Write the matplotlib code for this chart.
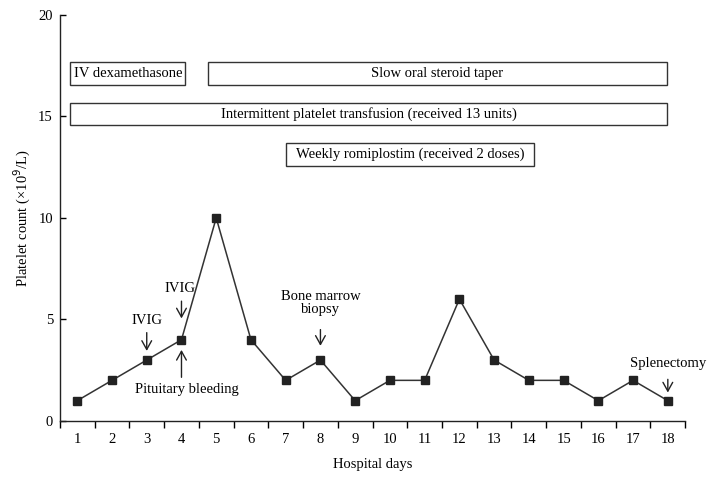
import matplotlib.pyplot as plt

# platelet counts per hospital day
days = list(range(1, 19))
platelets = [1, 2, 3, 4, 10, 4, 2, 3, 1, 2, 2, 6, 3, 2, 2, 1, 2, 1]

# treatment bars: label, start, end, bottom, top (in axis units, days as bins 0..18)
treatments = [
    ("IV dexamethasone", 0.29, 3.6, 16.55, 17.7, "left"),
    ("Slow oral steroid taper", 4.26, 17.48, 16.55, 17.7, "center"),
    ("Intermittent platelet transfusion (received 13 units)", 0.29, 17.48, 14.58, 15.67, "center"),
    ("Weekly romiplostim (received 2 doses)", 6.51, 13.65, 12.56, 13.69, "center"),
]

plt.rcParams['font.family'] = ['Liberation Serif', 'DejaVu Serif']
fs = 10.5

fig = plt.figure(figsize=(7.13, 4.8), dpi=100)
ax = fig.add_axes([0.084, 0.123, 0.877, 0.846])

x = [d - 0.5 for d in days]
ax.plot(x, platelets, color='#333333', lw=1.1, marker='s', ms=5.5,
        mfc='#222222', mec='#222222')

for label, x0, x1, y0, y1, align in treatments:
    ax.add_patch(plt.Rectangle((x0, y0), x1 - x0, y1 - y0, fill=False,
                               ec='#333333', lw=1.0))
    if align == "left":
        ax.text(x0 + 0.12, (y0 + y1) / 2, label, ha='left', va='center', fontsize=fs)
    else:
        ax.text((x0 + x1) / 2, (y0 + y1) / 2, label, ha='center', va='center', fontsize=fs)

arrow = dict(arrowstyle='->, head_length=0.45, head_width=0.25', color='#222222',
             lw=1.0, mutation_scale=14, shrinkA=0, shrinkB=0)

# IVIG day 3
ax.text(2.5, 4.95, "IVIG", ha='center', va='center', fontsize=fs)
ax.annotate("", xy=(2.5, 3.45), xytext=(2.5, 4.35), arrowprops=arrow)
# IVIG day 4
ax.text(3.45, 6.5, "IVIG", ha='center', va='center', fontsize=fs)
ax.annotate("", xy=(3.5, 5.05), xytext=(3.5, 5.9), arrowprops=arrow)
# pituitary bleeding
ax.annotate("", xy=(3.5, 3.5), xytext=(3.5, 2.15), arrowprops=arrow)
ax.text(3.65, 1.55, "Pituitary bleeding", ha='center', va='center', fontsize=fs)
# bone marrow biopsy
ax.text(7.5, 5.8, "Bone marrow\nbiopsy", ha='center', va='center', fontsize=fs,
        linespacing=1.05)
ax.annotate("", xy=(7.5, 3.7), xytext=(7.5, 4.5), arrowprops=arrow)
# splenectomy
ax.text(17.5, 2.85, "Splenectomy", ha='center', va='center', fontsize=fs)
ax.annotate("", xy=(17.5, 1.4), xytext=(17.5, 2.05), arrowprops=arrow)

ax.set_xlim(0, 18)
ax.set_ylim(0, 20)
ax.set_xticks(range(0, 19))
ax.set_xticklabels([])
ax.set_xticks(x, minor=True)
ax.set_xticklabels([str(d) for d in days], minor=True, fontsize=fs)
ax.tick_params(axis='x', which='minor', length=0, pad=9)
ax.tick_params(axis='x', which='major', length=5, width=1, direction='out')
ax.set_yticks([0, 5, 10, 15, 20])
ax.tick_params(axis='y', length=4, width=1, direction='in', labelsize=fs, pad=5)

for s in ['top', 'right']:
    ax.spines[s].set_visible(False)
for s in ['left', 'bottom']:
    ax.spines[s].set_linewidth(1.0)
    ax.spines[s].set_color('#222222')

ax.set_xlabel("Hospital days", fontsize=fs, labelpad=8)
ax.set_ylabel("Platelet count (×10$^{9}$/L)", fontsize=fs, labelpad=4)

fig.savefig("out.png", dpi=100)
